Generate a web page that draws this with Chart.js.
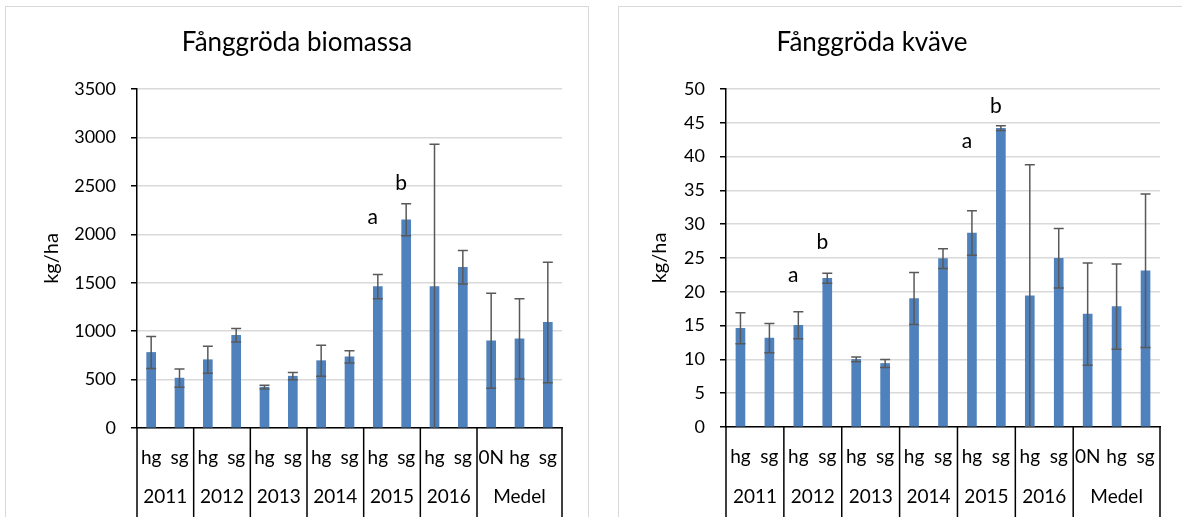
<!DOCTYPE html>
<html><head><meta charset="utf-8">
<script src="https://cdn.jsdelivr.net/npm/chart.js@4"></script>
<style>
html,body{margin:0;padding:0;background:#fff;width:1182px;height:517px;overflow:hidden;}
.panel{position:absolute;border:1.5px solid #d9d9d9;box-sizing:border-box;}
#p1{left:5px;top:6px;width:584px;height:540px;}
#p2{left:618px;top:6px;width:600px;height:540px;}
canvas{position:absolute;top:0;}
#c1{left:0;} #c2{left:600px;}
</style></head><body>
<div class="panel" id="p1"></div><div class="panel" id="p2"></div>
<canvas id="c1" width="600" height="517"></canvas>
<canvas id="c2" width="582" height="517"></canvas>
<script>
// ---- data ----
const subLabels = ['hg','sg','hg','sg','hg','sg','hg','sg','hg','sg','hg','sg','0N','hg','sg'];
const groupLabels = ['2011','2012','2013','2014','2015','2016','Medel'];
const groupSizes = [2,2,2,2,2,2,3];

const biomassTitle = 'Fånggröda biomassa';
const biomassValues = [780,515,705,958,422,535,695,735,1460,2150,1460,1660,900,920,1090];
const biomassErrors = [165,95,140,70,20,38,160,63,125,165,1470,172,490,415,622];
const biomassAxis = [0,3500,500]; // min, max, step
const biomassLetters = ['a','b'];
const biomassLetterIdx = [8,9];
const biomassLetterVal = [2180,2525];

const nitrogenTitle = 'Fånggröda kväve';
const nitrogenValues = [14.6,13.15,15.05,22.0,10.0,9.4,19.0,24.9,28.7,44.2,19.4,24.95,16.7,17.8,23.1];
const nitrogenErrors = [2.3,2.15,2.0,0.75,0.35,0.6,3.85,1.45,3.3,0.35,19.4,4.4,7.55,6.3,11.35];
const nitrogenAxis = [0,50,5];
const nitrogenLetters = ['a','b','a','b'];
const nitrogenLetterIdx = [2,3,8,9];
const nitrogenLetterVal = [22.5,27.35,42.2,47.4];

const yTitle = 'kg/ha';

// ---- styles ----
const FONT = 'Lato, "Open Sans", sans-serif';
const BAR = '#4f81bd';
const ERR = '#595959';

const extras = {
  id:'extras',
  afterDatasetsDraw(chart){
    const o = chart.options.plugins.extras;
    const {ctx, chartArea:a, scales:{x,y}} = chart;
    const ds = chart.data.datasets[0];
    const meta = chart.getDatasetMeta(0);
    // error bars
    ctx.save();
    ctx.beginPath(); ctx.rect(a.left, 0, a.right-a.left, a.bottom); ctx.clip();
    ctx.strokeStyle = ERR; ctx.lineWidth = 1.5;
    meta.data.forEach((bar,i)=>{
      const v = ds.data[i], e = o.errors[i];
      const yt = y.getPixelForValue(v+e), yb = y.getPixelForValue(v-e);
      const bx = bar.x;
      ctx.beginPath();
      ctx.moveTo(bx,yt); ctx.lineTo(bx,yb);
      ctx.moveTo(bx-5,yt); ctx.lineTo(bx+5,yt);
      ctx.moveTo(bx-5,yb); ctx.lineTo(bx+5,yb);
      ctx.stroke();
    });
    ctx.restore();
    // letters
    ctx.save();
    ctx.fillStyle = '#000';
    ctx.font = '21px ' + FONT;
    ctx.textAlign = 'center'; ctx.textBaseline = 'middle';
    o.letters.forEach((t,i)=>{
      ctx.fillText(t, x.getPixelForValue(o.letterIdx[i]) + o.letterDx, y.getPixelForValue(o.letterVal[i]));
    });
    ctx.restore();
  },
  afterDraw(chart){
    const o = chart.options.plugins.extras;
    const {ctx, chartArea:a, scales:{x}} = chart;
    ctx.save();
    // title
    ctx.fillStyle = '#000';
    ctx.font = '26px ' + FONT;
    ctx.textAlign = 'center'; ctx.textBaseline = 'middle';
    ctx.fillText(o.title, o.titleX, o.titleY);
    // group dividers
    const bounds = [0];
    let s = 0;
    groupSizes.forEach(n=>{ s += n; bounds.push(s); });
    ctx.strokeStyle = '#000'; ctx.lineWidth = 1.5;
    bounds.forEach(b=>{
      const px = x.getPixelForValue(b-0.5);
      ctx.beginPath(); ctx.moveTo(px, a.bottom); ctx.lineTo(px, chart.height); ctx.stroke();
    });
    ctx.font = '19px ' + FONT;
    groupLabels.forEach((g,i)=>{
      const cx = (x.getPixelForValue(bounds[i]-0.5) + x.getPixelForValue(bounds[i+1]-0.5))/2;
      ctx.fillText(g, cx, o.yearY);
    });
    ctx.restore();
  }
};

function makeChart(id, p){
  return new Chart(document.getElementById(id), {
    type:'bar',
    data:{ labels: subLabels, datasets:[{ data:p.values, backgroundColor:BAR, barThickness:9 }] },
    plugins:[extras],
    options:{
      responsive:false, animation:false, devicePixelRatio:1,
      layout:{ padding:{ left:0, right:p.padRight, top:89, bottom:0 } },
      plugins:{
        legend:{display:false}, tooltip:{enabled:false}, title:{display:false},
        extras:{ errors:p.errors, letters:p.letters, letterIdx:p.letterIdx, letterVal:p.letterVal,
                 letterDx:-5, title:p.title, titleX:p.titleX, titleY:43, yearY:497 }
      },
      scales:{
        x:{
          grid:{display:false, drawTicks:false},
          border:{display:true, color:'#000', width:1.5},
          ticks:{ font:{family:FONT, size:19}, color:'#000', padding:18, autoSkip:false, maxRotation:0, minRotation:0 },
          afterFit(sc){ sc.height = p.xh; }
        },
        y:{
          min:p.axis[0], max:p.axis[1],
          ticks:{ stepSize:p.axis[2], font:{family:FONT, size:18}, color:'#000', padding:15,
                  callback:(v)=>String(v) },
          grid:{ color:'#d9d9d9', lineWidth:1.5, tickColor:'#000', tickLength:6, drawTicks:true },
          border:{ color:'#000', width:1.5 },
          title:{ display:true, text:yTitle, font:{family:FONT, size:20}, color:'#000', padding:{top:p.ytp, bottom:0} },
          afterFit(sc){ sc.width = p.yw; }
        }
      }
    }
  });
}

makeChart('c1', { values:biomassValues, errors:biomassErrors, axis:biomassAxis,
  letters:biomassLetters, letterIdx:biomassLetterIdx, letterVal:biomassLetterVal,
  title:biomassTitle, titleX:297, padRight:38, xh:89, yw:137, ytp:40 });
makeChart('c2', { values:nitrogenValues, errors:nitrogenErrors, axis:nitrogenAxis,
  letters:nitrogenLetters, letterIdx:nitrogenLetterIdx, letterVal:nitrogenLetterVal,
  title:nitrogenTitle, titleX:272, padRight:22, xh:90, yw:126, ytp:48 });
</script>
</body></html>
